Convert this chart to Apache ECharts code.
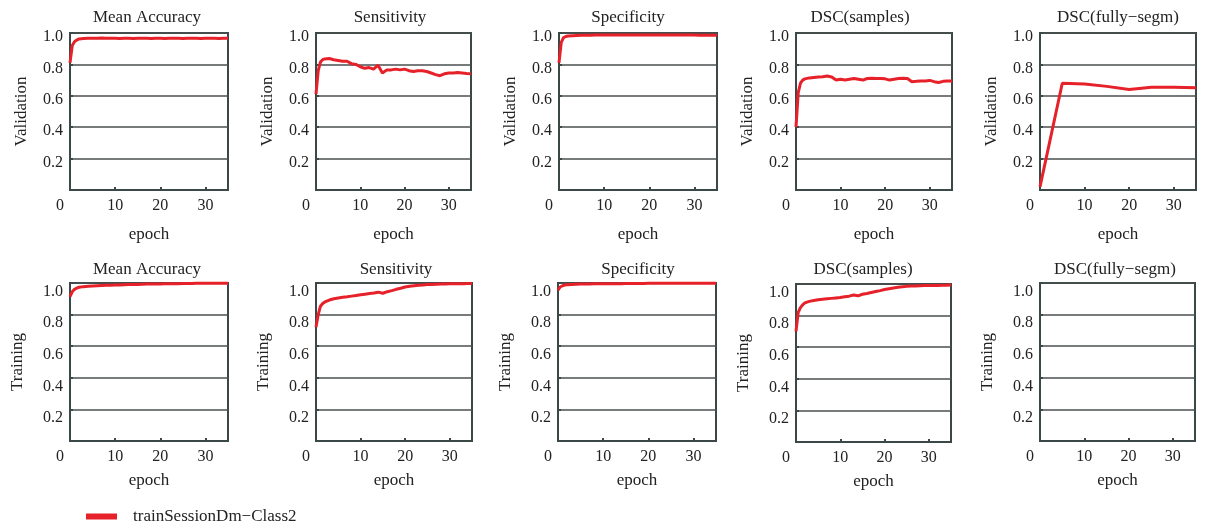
<!DOCTYPE html>
<html>
<head>
<meta charset="utf-8">
<script src="https://cdn.jsdelivr.net/npm/echarts@6/dist/echarts.min.js"></script>
<style>
  html, body { margin: 0; background: #fff; }
  #main { width: 1220px; height: 525px; }
</style>
</head>
<body>
<div id="main"></div>
<script>
// data
var titles = ['Mean Accuracy', 'Sensitivity', 'Specificity', 'DSC(samples)', 'DSC(fully−segm)'];
var rowNames = ['Validation', 'Training'];
var seriesName = 'trainSessionDm−Class2';

var epochs = [0, 0.5, 1, 1.5, 2, 3, 4, 5, 6, 7, 8, 9, 10, 11, 12, 13, 14, 15, 16, 17, 18, 19,
  20, 21, 22, 23, 24, 25, 26, 27, 28, 29, 30, 31, 32, 33, 34, 35];
var epochsFull = [0, 5, 10, 15, 20, 25, 30, 35];

var valMeanAcc = [0.81, 0.92, 0.945, 0.955, 0.962, 0.965, 0.966, 0.967, 0.967, 0.968, 0.967, 0.966, 0.966,
  0.965, 0.966, 0.966, 0.965, 0.966, 0.966, 0.966, 0.965, 0.966, 0.966, 0.965, 0.966, 0.966, 0.966, 0.965,
  0.966, 0.966, 0.966, 0.965, 0.966, 0.966, 0.966, 0.965, 0.966, 0.966];
var valSens = [0.61, 0.76, 0.815, 0.83, 0.835, 0.838, 0.83, 0.825, 0.82, 0.82, 0.805, 0.8, 0.785, 0.775,
  0.78, 0.77, 0.795, 0.745, 0.765, 0.765, 0.77, 0.765, 0.77, 0.76, 0.755, 0.76, 0.76, 0.755, 0.745, 0.735,
  0.728, 0.74, 0.745, 0.745, 0.748, 0.745, 0.742, 0.74];
var valSpec = [0.81, 0.94, 0.97, 0.978, 0.981, 0.983, 0.984, 0.985, 0.986, 0.986, 0.987, 0.987, 0.987,
  0.987, 0.988, 0.987, 0.987, 0.988, 0.988, 0.987, 0.988, 0.988, 0.988, 0.987, 0.988, 0.988, 0.988, 0.988,
  0.987, 0.987, 0.988, 0.987, 0.987, 0.986, 0.986, 0.985, 0.985, 0.985];
var valDscSamples = [0.40, 0.62, 0.68, 0.70, 0.708, 0.714, 0.717, 0.72, 0.722, 0.726, 0.72, 0.70, 0.705,
  0.70, 0.705, 0.71, 0.705, 0.70, 0.71, 0.712, 0.71, 0.71, 0.708, 0.70, 0.705, 0.71, 0.712, 0.71, 0.69,
  0.692, 0.695, 0.695, 0.698, 0.69, 0.685, 0.692, 0.695, 0.695];
var valDscFull = [0.02, 0.68, 0.675, 0.66, 0.64, 0.655, 0.655, 0.652];

var trMeanAcc = [0.913, 0.945, 0.96, 0.968, 0.973, 0.977, 0.979, 0.981, 0.983, 0.984, 0.985, 0.986, 0.987,
  0.988, 0.989, 0.99, 0.99, 0.991, 0.992, 0.993, 0.993, 0.994, 0.994, 0.995, 0.995, 0.996, 0.996, 0.997,
  0.997, 0.997, 0.998, 0.998, 0.998, 0.998, 0.999, 0.999, 0.999, 0.999];
var trSens = [0.72, 0.80, 0.853, 0.87, 0.88, 0.892, 0.9, 0.905, 0.91, 0.913, 0.917, 0.921, 0.925, 0.929,
  0.933, 0.937, 0.942, 0.935, 0.945, 0.952, 0.96, 0.967, 0.975, 0.979, 0.983, 0.986, 0.988, 0.99, 0.991,
  0.992, 0.993, 0.994, 0.995, 0.995, 0.996, 0.996, 0.997, 0.997];
var trSpec = [0.955, 0.975, 0.983, 0.987, 0.989, 0.991, 0.992, 0.993, 0.994, 0.994, 0.995, 0.995, 0.995,
  0.996, 0.996, 0.996, 0.996, 0.997, 0.997, 0.997, 0.997, 0.997, 0.998, 0.998, 0.998, 0.998, 0.998, 0.998,
  0.998, 0.999, 0.999, 0.999, 0.999, 0.999, 0.999, 0.999, 0.999, 0.999];
var trDscSamples = [0.70, 0.82, 0.85, 0.868, 0.88, 0.89, 0.896, 0.90, 0.903, 0.906, 0.909, 0.912, 0.915,
  0.919, 0.923, 0.93, 0.925, 0.935, 0.94, 0.946, 0.952, 0.958, 0.965, 0.97, 0.975, 0.979, 0.982, 0.985,
  0.987, 0.988, 0.989, 0.99, 0.99, 0.991, 0.991, 0.992, 0.992, 0.993];

// one entry per panel, row by row (last panel is empty)
var panelX = [epochs, epochs, epochs, epochs, epochsFull, epochs, epochs, epochs, epochs, null];
var panelY = [valMeanAcc, valSens, valSpec, valDscSamples, valDscFull,
  trMeanAcc, trSens, trSpec, trDscSamples, null];

// layout
var boxes = [
  [70, 33, 158, 157], [316, 33, 155, 157], [559, 33, 158, 157], [796, 33, 156, 157], [1040, 33, 156, 157],
  [70, 283, 158, 158], [316, 283, 156, 158], [558, 283, 158, 158], [796, 284, 155, 158], [1040, 283, 155, 158]
];
var titleX = [147, 390, 628, 860, 1118, 147, 396, 638, 863, 1115];
var titleY = [18, 270];

var font = 'Liberation Serif';
var ink = '#222';
var frame = '#3a4848';
var red = '#e62129';

var myChart = echarts.init(document.getElementById('main'));

var grids = [], xAxes = [], yAxes = [], seriesList = [], titleList = [];
for (var i = 0; i < 10; i++) {
  var row = i < 5 ? 0 : 1;
  var b = boxes[i];
  grids.push({
    left: b[0], top: b[1], width: b[2], height: b[3],
    show: true, borderColor: frame, borderWidth: 2, backgroundColor: 'transparent'
  });
  titleList.push({
    text: titles[i % 5], left: titleX[i], top: titleY[row],
    textAlign: 'center', textVerticalAlign: 'middle', padding: 0,
    textStyle: { fontFamily: font, fontSize: 17, fontWeight: 'normal', color: ink }
  });
  xAxes.push({
    gridIndex: i, type: 'value', min: 0, max: 35, interval: 10,
    name: 'epoch', nameLocation: 'middle', nameGap: row === 0 ? 36 : 31,
    nameTextStyle: { fontFamily: font, fontSize: 17, color: ink },
    axisLine: { show: true, lineStyle: { color: frame, width: 2 } },
    axisTick: { show: true, inside: true, length: 3, lineStyle: { color: frame, width: 2 } },
    splitLine: { show: false },
    axisLabel: {
      showMaxLabel: false, margin: row === 0 ? 8 : 8,
      fontFamily: font, fontSize: 16, color: ink,
      formatter: function (v) { return v === 0 ? '{z|0}' : String(v); },
      rich: { z: { fontFamily: font, fontSize: 16, color: ink, padding: [0, 20, 0, 0] } }
    }
  });
  yAxes.push({
    gridIndex: i, type: 'value', min: 0, max: 1, interval: 0.2,
    name: rowNames[row], nameLocation: 'middle', nameGap: row === 0 ? 40 : 44,
    nameTextStyle: { fontFamily: font, fontSize: 17, color: ink },
    axisLine: { show: true, lineStyle: { color: frame, width: 2 } },
    axisTick: { show: true, inside: true, length: 3, lineStyle: { color: frame, width: 2 } },
    splitLine: { show: true, lineStyle: { color: '#4a4f4f', width: 1.5 } },
    axisLabel: {
      showMinLabel: false, margin: 7,
      fontFamily: font, fontSize: 16, color: ink,
      verticalAlign: 'top', lineHeight: row === 0 ? 8 : 17,
      formatter: function (v) { return v.toFixed(1); }
    }
  });
  if (panelY[i]) {
    var pts = panelX[i].map(function (x, k) { return [x, panelY[i][k]]; });
    seriesList.push({
      name: seriesName, type: 'line', xAxisIndex: i, yAxisIndex: i,
      data: pts, showSymbol: false, clip: false, z: 5,
      itemStyle: { color: red },
      lineStyle: { color: red, width: 3 }
    });
  }
}

var option = {
  backgroundColor: '#fff',
  animation: false,
  title: titleList,
  legend: {
    data: [seriesName], left: 86, top: 508, padding: 0,
    icon: 'rect', itemWidth: 31, itemHeight: 6,
    textStyle: { fontFamily: font, fontSize: 17, color: ink, padding: [0, 0, 0, 11] }
  },
  grid: grids,
  xAxis: xAxes,
  yAxis: yAxes,
  series: seriesList
};

myChart.setOption(option);
</script>
</body>
</html>
